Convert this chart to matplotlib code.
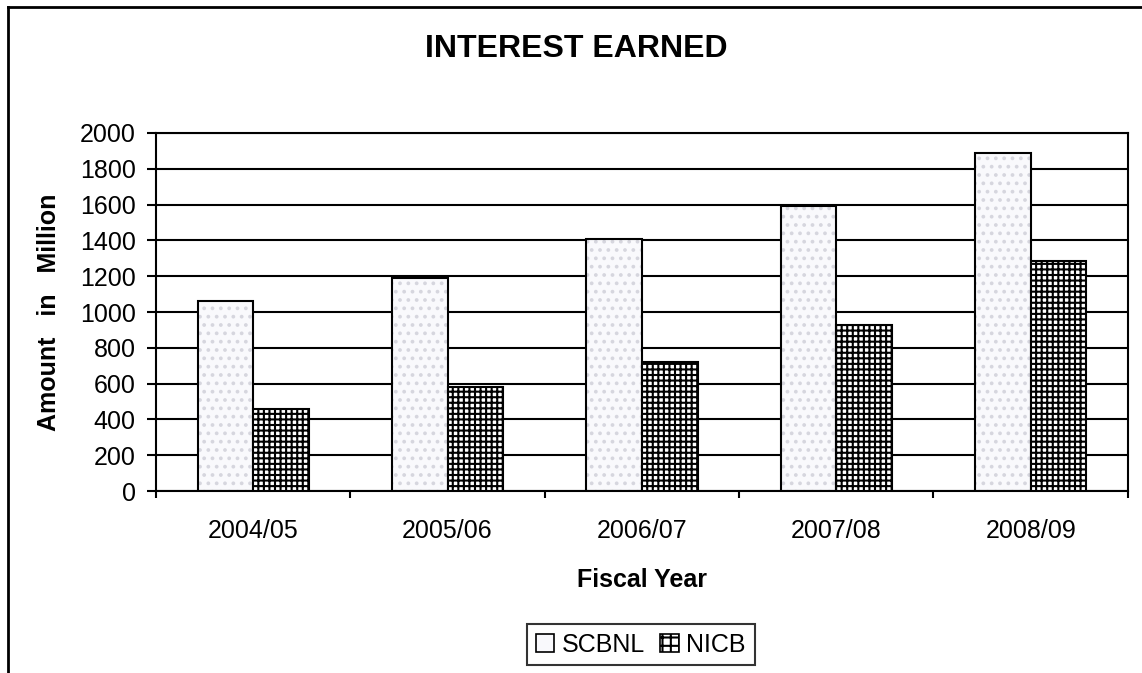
import numpy as np
import matplotlib.pyplot as plt
from matplotlib.lines import Line2D
from matplotlib.patches import Patch

plt.rcParams['font.family'] = ['Liberation Sans', 'DejaVu Sans']
plt.rcParams['hatch.linewidth'] = 1.5

years = ['2004/05', '2005/06', '2006/07', '2007/08', '2008/09']
scbnl = [1060, 1190, 1410, 1590, 1890]
nicb = [460, 580, 720, 925, 1285]

x = np.arange(len(years))
w = 0.286

fig = plt.figure(figsize=(11.42, 6.73), dpi=100)
ax = fig.add_axes([0.1366, 0.2704, 0.851, 0.532])

# light dotted fill, then black outline on top
ax.bar(x - w / 2, scbnl, w, color='#f9f9fc', edgecolor='#d6d6de', hatch='..', linewidth=0, zorder=2)
ax.bar(x - w / 2, scbnl, w, fill=False, edgecolor='black', linewidth=1.5, zorder=3)
ax.bar(x + w / 2, nicb, w, color='white', edgecolor='black', hatch='+++', linewidth=1.5, zorder=3)

ax.set_xlim(-0.5, 4.5)
ax.set_ylim(0, 2000)
ax.set_yticks(np.arange(0, 2001, 200))
ax.yaxis.grid(True, color='black', linewidth=1.5, zorder=0)
ax.set_axisbelow(True)

ax.set_xticks(np.arange(-0.5, 5, 1))
ax.set_xticklabels([])
ax.set_xticks(x, minor=True)
ax.set_xticklabels(years, minor=True, fontsize=18)
ax.tick_params(axis='x', which='major', direction='out', length=5, width=1.5)
ax.tick_params(axis='x', which='minor', length=0, pad=20)
ax.tick_params(axis='y', direction='out', length=6.5, width=1.5, pad=8, labelsize=18)

for s in ax.spines.values():
    s.set_linewidth(1.5)

ax.set_xlabel('Fiscal Year', fontsize=18, fontweight='bold', labelpad=18)
ax.set_ylabel('Amount   in   Million', fontsize=18, fontweight='bold', labelpad=14)

fig.text(0.505, 0.927, 'INTEREST EARNED', fontsize=23, fontweight='bold', ha='center', va='center')

handles = [Patch(facecolor='#f9f9fc', edgecolor='black', linewidth=1.2),
           Patch(facecolor='white', edgecolor='black', hatch='++', linewidth=1.2)]
leg = fig.legend(handles, ['SCBNL', 'NICB'], loc='center', bbox_to_anchor=(0.561, 0.042),
                 ncol=2, fontsize=18, frameon=True, fancybox=False, handlelength=0.75,
                 handleheight=0.75, handletextpad=0.3, columnspacing=0.6, borderpad=0.35)
leg.get_frame().set_edgecolor('black')
leg.get_frame().set_linewidth(1.5)

# outer chart frame (top and left edges visible)
fig.add_artist(Line2D([0.007, 1.0], [0.99, 0.99], color='black', linewidth=2, transform=fig.transFigure))
fig.add_artist(Line2D([0.007, 0.007], [0.0, 0.99], color='black', linewidth=2, transform=fig.transFigure))

fig.savefig('out.png', dpi=100)
